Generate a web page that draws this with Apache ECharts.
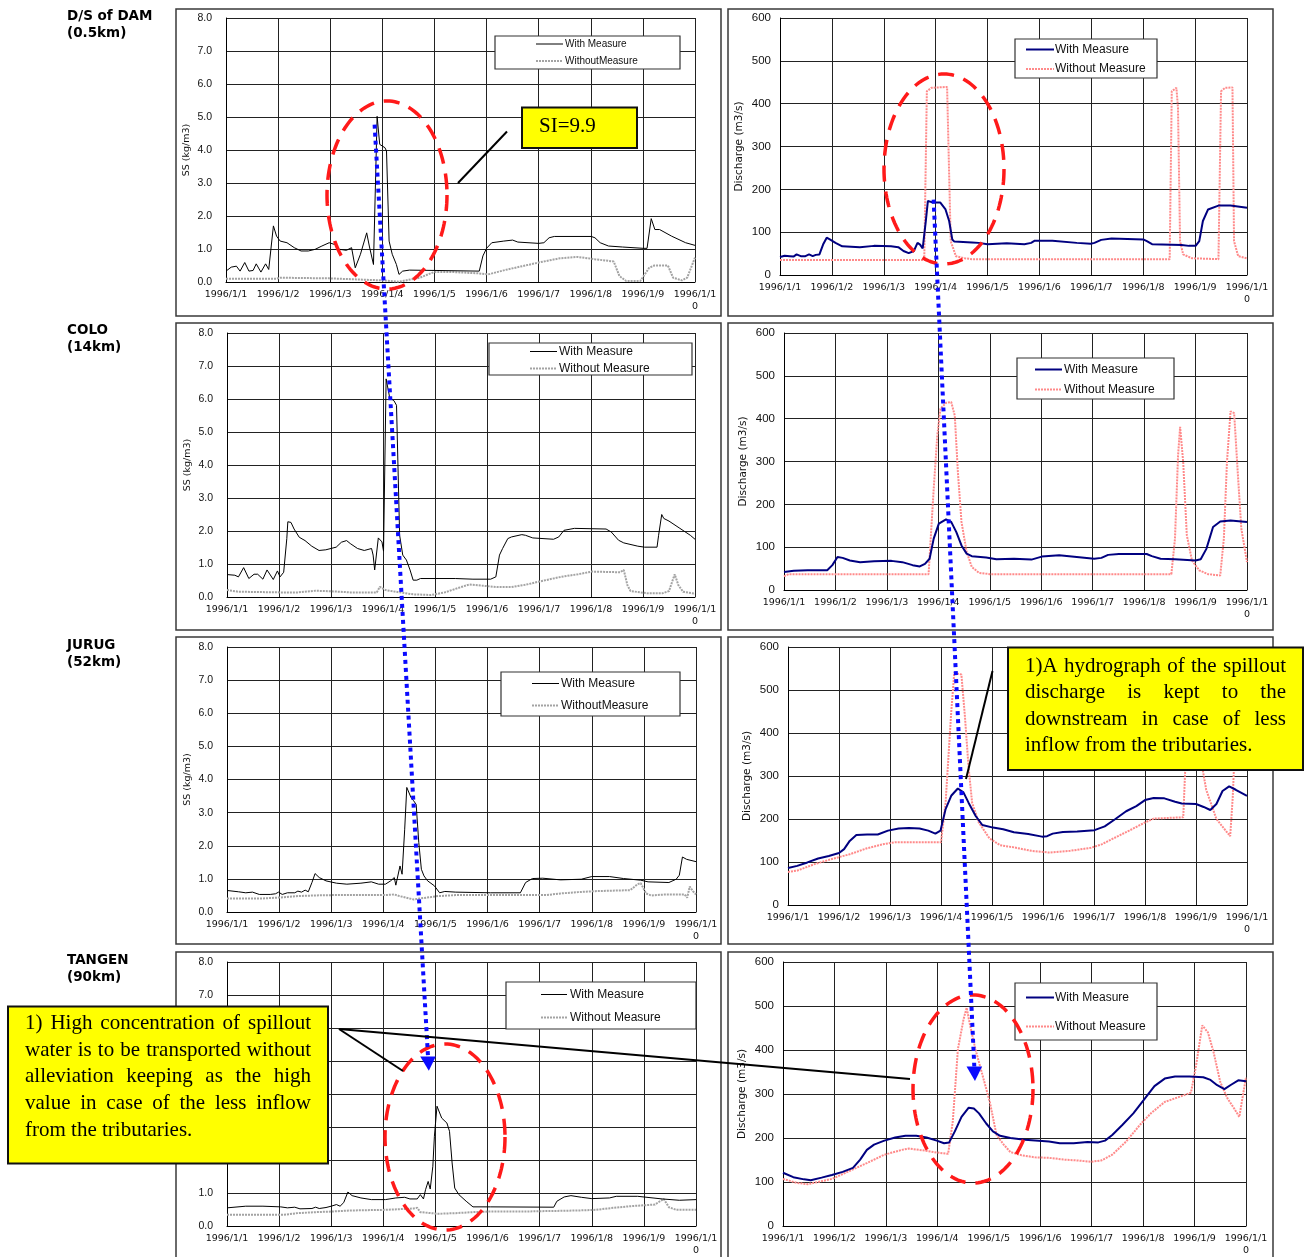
<!DOCTYPE html>
<html>
<head>
<meta charset="utf-8">
<script src="https://cdn.jsdelivr.net/npm/echarts@6/dist/echarts.min.js"></script>
<style>
  html, body { margin: 0; padding: 0; background: #fff; }
  #chart { width: 1305px; height: 1257px; }
</style>
</head>
<body>
<div id="chart"></div>
<script>
// ---- categories / tick labels ----
const dayLabels = ['1996/1/1', '1996/1/2', '1996/1/3', '1996/1/4', '1996/1/5',
                   '1996/1/6', '1996/1/7', '1996/1/8', '1996/1/9', '1996/1/10'];
const ssTickLabels = ['0.0', '1.0', '2.0', '3.0', '4.0', '5.0', '6.0', '7.0', '8.0'];
const qTickLabels = ['0', '100', '200', '300', '400', '500', '600'];
const stationNames = ['D/S of DAM\n(0.5km)', 'COLO\n(14km)', 'JURUG\n(52km)', 'TANGEN\n(90km)'];

// ---- D/S of DAM (0.5km) : [day, value] ----
const damSsWith = [[0,0.33],[0.10,0.45],[0.20,0.48],[0.27,0.33],[0.36,0.59],[0.44,0.33],[0.52,0.35],[0.58,0.55],[0.67,0.30],[0.76,0.55],[0.82,0.38],[0.91,1.70],[0.97,1.39],[1.04,1.24],[1.17,1.19],[1.31,1.04],[1.44,0.94],[1.58,0.94],[1.71,0.99],[1.84,1.09],[1.98,1.19],[2.08,1.14],[2.18,0.99],[2.31,0.96],[2.41,1.04],[2.48,0.43],[2.58,0.84],[2.70,1.49],[2.75,1.09],[2.83,0.53],[2.86,0.53],[2.90,5.02],[2.95,4.17],[3.05,4.07],[3.08,3.97],[3.13,1.24],[3.19,0.84],[3.27,0.53],[3.32,0.23],[3.39,0.33],[3.52,0.36],[4.00,0.35],[4.86,0.33],[4.93,0.79],[5.00,1.02],[5.10,1.19],[5.33,1.24],[5.50,1.27],[5.60,1.21],[6.00,1.17],[6.10,1.19],[6.20,1.34],[6.30,1.38],[7.01,1.38],[7.08,1.34],[7.18,1.19],[7.34,1.09],[7.61,1.06],[8.01,1.02],[8.08,1.02],[8.16,1.92],[8.23,1.59],[8.32,1.59],[8.55,1.39],[8.82,1.19],[9.00,1.11]];
const damSsWithout = [[0,0.10],[0.97,0.10],[1.04,0.13],[1.98,0.11],[2.98,0.05],[3.32,0.01],[3.72,0.13],[3.99,0.30],[4.39,0.30],[4.86,0.26],[5.03,0.23],[5.40,0.38],[6.00,0.59],[6.41,0.72],[6.74,0.76],[7.08,0.69],[7.44,0.62],[7.55,0.18],[7.68,0.03],[7.95,0.03],[8.12,0.43],[8.22,0.50],[8.48,0.50],[8.58,0.13],[8.75,0.05],[8.85,0.13],[9.00,0.74]];
const damQWith = [[0,42],[0.09,45],[0.19,44],[0.26,43],[0.32,48],[0.40,44],[0.49,44],[0.56,48],[0.63,44],[0.69,47],[0.76,48],[0.83,71],[0.90,87],[0.96,83],[1.07,75],[1.20,67],[1.54,65],[1.81,68],[2.14,67],[2.28,65],[2.38,56],[2.48,51],[2.58,56],[2.65,75],[2.70,71],[2.75,62],[2.81,126],[2.85,173],[2.95,169],[3.09,169],[3.19,153],[3.26,126],[3.32,83],[3.36,78],[3.70,76],[3.83,75],[4.00,72],[4.37,74],[4.71,72],[4.84,75],[4.91,80],[5.25,80],[5.72,75],[5.99,73],[6.06,75],[6.19,82],[6.39,85],[7.00,83],[7.07,79],[7.17,72],[7.74,70],[7.88,68],[8.01,68],[8.08,79],[8.15,126],[8.25,153],[8.45,162],[8.68,162],[9.00,157]];
const damQWithout = [[0,35],[2.78,35],[2.83,429],[2.92,437],[3.22,439],[3.29,79],[3.39,44],[3.56,39],[3.70,37],[7.51,37],[7.55,429],[7.64,437],[7.67,390],[7.71,79],[7.77,48],[7.94,39],[8.45,37],[8.50,429],[8.58,437],[8.72,438],[8.75,79],[8.83,44],[9.00,39]];

// ---- COLO (14km) ----
const coloSsWith = [[0,0.68],[0.15,0.66],[0.22,0.61],[0.32,0.89],[0.42,0.56],[0.52,0.69],[0.59,0.69],[0.69,0.54],[0.77,0.82],[0.89,0.53],[0.97,0.79],[1.02,0.61],[1.09,0.75],[1.15,1.77],[1.17,2.28],[1.23,2.26],[1.29,2.06],[1.39,1.81],[1.50,1.71],[1.63,1.54],[1.77,1.41],[1.90,1.43],[2.10,1.51],[2.20,1.66],[2.30,1.71],[2.37,1.62],[2.51,1.47],[2.64,1.41],[2.78,1.47],[2.81,1.27],[2.84,0.82],[2.91,1.79],[2.98,1.67],[3.01,1.39],[3.06,6.61],[3.13,6.03],[3.21,5.95],[3.26,5.81],[3.32,1.87],[3.38,1.27],[3.45,1.12],[3.52,0.82],[3.58,0.51],[3.65,0.51],[3.72,0.56],[4.39,0.56],[4.73,0.54],[5.07,0.54],[5.17,0.61],[5.24,1.27],[5.30,1.47],[5.40,1.77],[5.47,1.82],[5.67,1.89],[5.74,1.87],[5.88,1.79],[6.28,1.75],[6.38,1.82],[6.48,2.02],[6.68,2.08],[7.29,2.06],[7.39,1.97],[7.53,1.72],[7.63,1.64],[7.90,1.54],[8.03,1.51],[8.27,1.51],[8.30,1.87],[8.36,2.50],[8.40,2.38],[8.50,2.30],[8.71,2.08],[8.91,1.87],[9.00,1.75]];
const coloSsWithout = [[0,0.21],[0.22,0.16],[1.02,0.14],[1.36,0.14],[1.70,0.19],[2.04,0.17],[2.37,0.14],[2.88,0.14],[2.94,0.31],[3.05,0.21],[3.32,0.14],[3.58,0.08],[3.92,0.06],[4.19,0.14],[4.46,0.28],[4.66,0.38],[4.93,0.34],[5.20,0.30],[5.47,0.30],[5.74,0.37],[6.01,0.47],[6.42,0.61],[6.75,0.69],[7.02,0.77],[7.56,0.75],[7.63,0.82],[7.70,0.36],[7.76,0.18],[8.10,0.11],[8.37,0.11],[8.50,0.18],[8.61,0.69],[8.68,0.36],[8.77,0.16],[9.00,0.10]];
const coloQWith = [[0,42],[0.19,45],[0.46,46],[0.84,46],[0.94,58],[1.04,77],[1.14,75],[1.28,69],[1.48,65],[1.75,67],[2.09,68],[2.30,65],[2.50,58],[2.64,55],[2.74,61],[2.83,73],[2.91,120],[3.01,155],[3.15,165],[3.25,159],[3.35,135],[3.45,104],[3.55,85],[3.65,79],[3.93,76],[4.13,72],[4.47,73],[4.81,71],[5.01,78],[5.35,81],[5.69,77],[6.03,73],[6.17,75],[6.30,82],[6.51,84],[7.05,84],[7.15,79],[7.32,73],[7.60,72],[8.00,69],[8.10,72],[8.21,96],[8.34,147],[8.48,160],[8.68,162],[9.00,159]];
const coloQWithout = [[0,32],[0.09,37],[2.81,37],[2.91,236],[2.98,361],[3.04,423],[3.15,437],[3.25,439],[3.32,407],[3.38,275],[3.45,159],[3.55,89],[3.65,54],[3.79,40],[4.00,37],[7.53,37],[7.60,120],[7.66,314],[7.70,381],[7.76,298],[7.83,128],[7.93,69],[8.07,46],[8.24,37],[8.48,34],[8.55,120],[8.61,298],[8.68,417],[8.75,413],[8.82,275],[8.89,143],[9.00,65]];

// ---- JURUG (52km) ----
const jurugSsWith = [[0,0.65],[0.22,0.61],[0.36,0.58],[0.49,0.60],[0.62,0.53],[0.83,0.53],[0.93,0.55],[0.99,0.60],[1.06,0.53],[1.16,0.58],[1.30,0.58],[1.36,0.63],[1.43,0.60],[1.50,0.66],[1.56,0.61],[1.63,0.89],[1.69,1.16],[1.77,1.04],[1.90,0.94],[2.10,0.87],[2.30,0.84],[2.57,0.87],[2.77,0.91],[2.91,0.84],[3.04,0.84],[3.14,0.94],[3.21,1.04],[3.24,0.81],[3.32,1.39],[3.36,1.14],[3.41,2.50],[3.45,3.76],[3.53,3.46],[3.58,3.36],[3.63,3.25],[3.68,2.10],[3.73,1.29],[3.78,1.09],[3.85,0.94],[3.98,0.79],[4.08,0.58],[4.18,0.62],[4.39,0.60],[5.06,0.58],[5.63,0.58],[5.73,0.89],[5.86,1.01],[6.06,1.02],[6.40,0.97],[6.80,0.99],[7.00,1.07],[7.34,1.07],[7.61,1.01],[7.94,0.96],[8.08,0.91],[8.48,0.89],[8.62,0.99],[8.68,1.11],[8.74,1.66],[8.82,1.59],[9.00,1.52]];
const jurugSsWithout = [[0,0.41],[0.69,0.41],[1.03,0.44],[1.36,0.48],[1.70,0.50],[2.03,0.51],[3.04,0.51],[3.21,0.53],[3.31,0.48],[3.58,0.38],[3.71,0.41],[4.05,0.48],[4.39,0.51],[6.13,0.51],[6.40,0.56],[6.74,0.60],[7.07,0.63],[7.74,0.66],[7.88,0.84],[7.94,0.87],[8.04,0.56],[8.14,0.50],[8.42,0.53],[8.78,0.53],[8.83,0.43],[8.88,0.77],[8.94,0.63],[9.00,0.53]];
const jurugQWith = [[0,86],[0.18,91],[0.38,99],[0.59,108],[0.80,114],[1.00,121],[1.10,130],[1.21,149],[1.34,163],[1.55,164],[1.76,164],[1.96,173],[2.17,178],[2.37,179],[2.58,178],[2.75,173],[2.89,166],[2.99,173],[3.09,223],[3.20,254],[3.33,271],[3.44,262],[3.54,238],[3.68,207],[3.81,186],[4.02,180],[4.22,176],[4.43,169],[4.71,165],[4.98,159],[5.08,160],[5.19,166],[5.39,170],[5.67,171],[6.01,174],[6.21,183],[6.42,200],[6.63,218],[6.83,230],[7.00,244],[7.17,249],[7.38,248],[7.59,240],[7.72,236],[8.00,235],[8.15,228],[8.28,221],[8.40,235],[8.52,265],[8.65,276],[8.78,268],[9.00,254]];
const jurugQWithout = [[0,77],[0.18,80],[0.52,95],[0.86,107],[1.21,118],[1.55,132],[1.89,142],[2.10,146],[3.00,146],[3.09,238],[3.20,448],[3.26,540],[3.40,536],[3.47,437],[3.54,321],[3.61,238],[3.74,192],[3.95,155],[4.16,139],[4.43,134],[4.77,126],[5.12,122],[5.53,126],[5.94,133],[6.15,141],[6.35,153],[6.69,173],[7.00,192],[7.17,201],[7.75,204],[7.79,320],[7.86,430],[7.98,430],[8.03,384],[8.20,268],[8.40,200],[8.67,160],[8.72,250],[8.78,420],[8.85,450],[9.00,400]];

// ---- TANGEN (90km) ----
const tangenSsWith = [[0,0.55],[0.36,0.60],[0.69,0.60],[1.03,0.58],[1.16,0.55],[1.30,0.57],[1.40,0.52],[1.63,0.53],[1.70,0.57],[1.77,0.53],[1.90,0.56],[2.00,0.60],[2.10,0.65],[2.17,0.60],[2.24,0.71],[2.32,1.03],[2.40,0.92],[2.57,0.85],[2.77,0.80],[3.04,0.80],[3.24,0.85],[3.41,0.87],[3.51,0.82],[3.65,0.82],[3.71,0.95],[3.77,0.82],[3.81,1.10],[3.86,1.35],[3.90,1.12],[3.95,1.81],[3.98,2.72],[4.03,3.63],[4.12,3.27],[4.22,3.12],[4.27,2.87],[4.32,1.91],[4.37,1.15],[4.45,0.95],[4.59,0.75],[4.72,0.58],[5.06,0.58],[6.27,0.57],[6.33,0.75],[6.47,0.88],[6.60,0.92],[6.80,0.87],[7.00,0.83],[7.34,0.85],[7.47,0.90],[7.88,0.90],[8.35,0.82],[8.68,0.78],[9.00,0.80]];
const tangenSsWithout = [[0,0.34],[1.09,0.34],[1.36,0.39],[1.70,0.42],[2.03,0.44],[2.37,0.47],[3.04,0.49],[3.58,0.53],[3.65,0.55],[3.71,0.42],[4.05,0.37],[4.39,0.39],[4.72,0.42],[5.06,0.44],[5.73,0.44],[6.40,0.46],[6.74,0.47],[7.07,0.49],[7.41,0.55],[7.74,0.60],[8.21,0.65],[8.38,0.82],[8.48,0.57],[8.62,0.49],[9.00,0.49]];
const tangenQWith = [[0,121],[0.20,111],[0.41,106],[0.54,104],[0.75,110],[0.95,116],[1.16,123],[1.36,132],[1.50,151],[1.63,173],[1.77,185],[1.97,194],[2.18,201],[2.38,205],[2.59,205],[2.79,201],[2.99,194],[3.13,188],[3.23,190],[3.34,215],[3.47,248],[3.61,269],[3.71,267],[3.81,256],[3.95,233],[4.08,215],[4.22,205],[4.42,200],[4.70,196],[4.97,194],[5.17,192],[5.38,188],[5.65,188],[5.92,191],[6.13,190],[6.26,194],[6.40,207],[6.60,230],[6.81,256],[7.01,286],[7.22,318],[7.42,335],[7.62,340],[7.90,340],[8.17,338],[8.31,332],[8.44,320],[8.58,311],[8.71,321],[8.85,331],[9.00,329]];
const tangenQWithout = [[0,107],[0.27,98],[0.48,95],[0.68,100],[0.95,107],[1.29,125],[1.63,143],[1.97,162],[2.31,173],[2.45,176],[2.72,172],[2.99,167],[3.21,164],[3.30,237],[3.40,402],[3.51,470],[3.57,496],[3.64,454],[3.74,402],[3.88,342],[4.02,282],[4.15,207],[4.29,185],[4.42,168],[4.63,161],[4.90,156],[5.17,155],[5.45,151],[5.72,149],[5.99,146],[6.19,149],[6.40,162],[6.67,192],[6.94,230],[7.15,256],[7.42,282],[7.69,293],[7.93,303],[8.03,365],[8.15,456],[8.26,440],[8.37,395],[8.50,327],[8.64,290],[8.77,267],[8.87,248],[8.94,297],[9.00,338]];

// ---- panel layout (row-major: SS on the left, discharge on the right) ----
const panels = [
  { kind: 'ss', grid: [226, 18, 469, 264],  frame: [176, 9, 545, 307],   w: damSsWith,     wo: damSsWithout,
    legend: { box: [495, 36, 185, 33], line: [536, 563], tx: 565, rows: [44, 61], fs: 10, labels: ['With Measure', 'WithoutMeasure'] } },
  { kind: 'q',  grid: [780, 18, 467, 257],  frame: [728, 9, 545, 307],   w: damQWith,      wo: damQWithout,
    legend: { box: [1015, 39, 142, 39], line: [1026, 1054], tx: 1055, rows: [49.5, 69], fs: 12, labels: ['With Measure', 'Without Measure'] } },
  { kind: 'ss', grid: [227, 333, 468, 264], frame: [176, 323, 545, 307], w: coloSsWith,    wo: coloSsWithout,
    legend: { box: [489, 343, 203, 32], line: [530, 557], tx: 559, rows: [351.5, 368.5], fs: 12, labels: ['With Measure', 'Without Measure'] } },
  { kind: 'q',  grid: [784, 333, 463, 257], frame: [728, 323, 545, 307], w: coloQWith,     wo: coloQWithout,
    legend: { box: [1017, 358, 157, 41], line: [1035, 1062], tx: 1064, rows: [369.5, 389.5], fs: 12, labels: ['With Measure', 'Without Measure'] } },
  { kind: 'ss', grid: [227, 647, 469, 265], frame: [176, 637, 545, 307], w: jurugSsWith,   wo: jurugSsWithout,
    legend: { box: [501, 672, 179, 44], line: [532, 559], tx: 561, rows: [683.5, 705.5], fs: 12, labels: ['With Measure', 'WithoutMeasure'] } },
  { kind: 'q',  grid: [788, 647, 459, 258], frame: [728, 637, 545, 307], w: jurugQWith,    wo: jurugQWithout,
    legend: { box: [1017, 672, 157, 41], line: [1035, 1062], tx: 1064, rows: [683.5, 703.5], fs: 12, labels: ['With Measure', 'Without Measure'] } },
  { kind: 'ss', grid: [227, 962, 469, 264], frame: [176, 952, 545, 310], w: tangenSsWith,  wo: tangenSsWithout,
    legend: { box: [506, 982, 190, 47], line: [541, 567], tx: 570, rows: [994.5, 1017.5], fs: 12, labels: ['With Measure', 'Without Measure'] } },
  { kind: 'q',  grid: [783, 962, 463, 267], frame: [728, 952, 545, 310], w: tangenQWith,   wo: tangenQWithout,
    legend: { box: [1015, 983, 142, 57], line: [1026, 1054], tx: 1055, rows: [997.5, 1026.5], fs: 12, labels: ['With Measure', 'Without Measure'] } }
];

const styles = {
  ss: { w: { color: '#000000', width: 1, type: 'solid' },
        wo: { color: '#a3a3a3', width: 2, type: [2, 1] } },
  q:  { w: { color: '#000080', width: 2, type: 'solid' },
        wo: { color: '#ff8a8a', width: 2, type: [2, 1] } }
};

const grids = [], xAxes = [], yAxes = [], series = [], elements = [];

panels.forEach((p, i) => {
  const [l, t, w, h] = p.grid;
  grids.push({ left: l, top: t, width: w, height: h, containLabel: false });
  xAxes.push({
    type: 'value', gridIndex: i, min: 0, max: 9, interval: 1,
    axisLine: { show: true, onZero: false, lineStyle: { color: '#000', width: 1 } },
    axisTick: { show: false },
    splitLine: { show: true, lineStyle: { color: '#222', width: 1 } },
    axisLabel: {
      formatter: v => dayLabels[Math.round(v)],
      fontFamily: 'DejaVu Sans', fontSize: 9.5, color: '#111', margin: 7,
      width: 46, overflow: 'breakAll', lineHeight: 12, hideOverlap: false
    }
  });
  const isSS = p.kind === 'ss';
  yAxes.push({
    type: 'value', gridIndex: i, min: 0, max: isSS ? 8 : 600, interval: isSS ? 1 : 100,
    name: isSS ? 'SS (kg/m3)' : 'Discharge (m3/s)',
    nameLocation: 'middle', nameGap: isSS ? 34 : 35,
    nameTextStyle: { fontFamily: 'DejaVu Sans', fontSize: isSS ? 9.5 : 10.5, color: '#111' },
    axisLine: { show: true, onZero: false, lineStyle: { color: '#000', width: 1 } },
    axisTick: { show: false },
    splitLine: { show: true, lineStyle: { color: '#222', width: 1 } },
    axisLabel: {
      formatter: v => isSS ? ssTickLabels[Math.round(v)] : qTickLabels[Math.round(v / 100)],
      fontFamily: 'Liberation Sans', fontSize: isSS ? 10.5 : 11.5, color: '#111', margin: isSS ? 14 : 9
    }
  });
  const st = styles[p.kind];
  series.push({
    type: 'line', name: p.legend.labels[1], xAxisIndex: i, yAxisIndex: i, data: p.wo,
    showSymbol: false, symbol: 'none', z: 3, lineStyle: st.wo
  });
  series.push({
    type: 'line', name: p.legend.labels[0], xAxisIndex: i, yAxisIndex: i, data: p.w,
    showSymbol: false, symbol: 'none', z: 4, lineStyle: st.w
  });

  // panel frame
  const [fx, fy, fw, fh] = p.frame;
  elements.push({ type: 'rect', z: 1, shape: { x: fx, y: fy, width: fw, height: fh },
    style: { fill: 'none', stroke: '#3a3a3a', lineWidth: 1.5 } });

  // legend box
  const L = p.legend;
  elements.push({ type: 'rect', z: 60, shape: { x: L.box[0], y: L.box[1], width: L.box[2], height: L.box[3] },
    style: { fill: '#fff', stroke: '#333', lineWidth: 1.2 } });
  [st.w, st.wo].forEach((ls, k) => {
    elements.push({ type: 'line', z: 61, shape: { x1: L.line[0], y1: L.rows[k], x2: L.line[1], y2: L.rows[k] },
      style: { stroke: ls.color, lineWidth: ls.width, lineDash: ls.type === 'solid' ? null : ls.type } });
    elements.push({ type: 'text', z: 61, x: L.tx, y: L.rows[k],
      style: { text: L.labels[k], font: L.fs + 'px "Liberation Sans"', fill: '#111', verticalAlign: 'middle' } });
  });
});

// station labels
const stationY = [8, 322, 637, 952];
stationNames.forEach((s, i) => {
  elements.push({ type: 'text', z: 10, x: 67, y: stationY[i],
    style: { text: s, font: 'bold 13.5px "DejaVu Sans"', fill: '#000', lineHeight: 17, verticalAlign: 'top' } });
});

// dashed red ellipses marking the spill peaks
function ellipse(cx, cy, rx, ry) {
  const pts = [];
  for (let k = 0; k < 144; k++) {
    const a = k / 144 * Math.PI * 2;
    pts.push([cx + rx * Math.cos(a), cy + ry * Math.sin(a)]);
  }
  return { type: 'polygon', z: 80, shape: { points: pts },
    style: { fill: 'none', stroke: '#ff1a1a', lineWidth: 3.5, lineDash: [16, 10] } };
}
elements.push(ellipse(387, 195, 60, 94));
elements.push(ellipse(944, 169, 60, 95));
elements.push(ellipse(445, 1137, 60, 93));
elements.push(ellipse(973, 1089, 60, 94));

// blue dotted arrows tracing the peak downstream
function arrow(x1, y1, x2, y2, tipY, half) {
  elements.push({ type: 'line', z: 85, shape: { x1, y1, x2, y2 },
    style: { stroke: '#0a0aff', lineWidth: 4, lineDash: [4, 4] } });
  const tipX = x2 + (x2 - x1) / (y2 - y1) * (tipY - y2);
  elements.push({ type: 'polygon', z: 85, shape: { points: [[x2 - half, y2], [x2 + half, y2], [tipX, tipY]] },
    style: { fill: '#0a0aff' } });
}
arrow(374.6, 124.7, 428, 1056.5, 1070.7, 7.8);
arrow(933.6, 199.7, 974.3, 1066.5, 1081, 7.8);

// callout boxes
const measureCtx = document.createElement('canvas').getContext('2d');
function textWidth(t, font) { measureCtx.font = font; return measureCtx.measureText(t).width; }
function noteBox(box, lines, x, y0, width, lineH, font) {
  elements.push({ type: 'rect', z: 90, shape: { x: box[0], y: box[1], width: box[2], height: box[3] },
    style: { fill: '#ffff00', stroke: '#111', lineWidth: 2 } });
  lines.forEach((line, i) => {
    const y = y0 + i * lineH;
    if (i === lines.length - 1) {
      elements.push({ type: 'text', z: 91, x, y, style: { text: line, font, fill: '#000', verticalAlign: 'middle' } });
      return;
    }
    const words = line.split(' ');
    const total = words.reduce((s, w) => s + textWidth(w, font), 0);
    const gap = (width - total) / (words.length - 1);
    let cx = x;
    words.forEach(w => {
      elements.push({ type: 'text', z: 91, x: cx, y, style: { text: w, font, fill: '#000', verticalAlign: 'middle' } });
      cx += textWidth(w, font) + gap;
    });
  });
}
const noteFont = '21px "Liberation Serif"';

// SI callout
elements.push({ type: 'line', z: 88, shape: { x1: 458, y1: 183, x2: 507, y2: 131.5 },
  style: { stroke: '#000', lineWidth: 2 } });
elements.push({ type: 'rect', z: 90, shape: { x: 522, y: 107.5, width: 115, height: 40.5 },
  style: { fill: '#ffff00', stroke: '#111', lineWidth: 2 } });
elements.push({ type: 'text', z: 91, x: 539, y: 126,
  style: { text: 'SI=9.9', font: noteFont, fill: '#000', verticalAlign: 'middle' } });

// discharge callout
elements.push({ type: 'line', z: 88, shape: { x1: 966, y1: 779, x2: 992.5, y2: 671 },
  style: { stroke: '#000', lineWidth: 2 } });
noteBox([1008, 647.5, 295, 122.5],
  ['1)A hydrograph of the spillout', 'discharge is kept to the', 'downstream in case of less', 'inflow from the tributaries.'],
  1025, 666, 261, 26.5, noteFont);

// concentration callout
elements.push({ type: 'line', z: 88, shape: { x1: 339, y1: 1029, x2: 403, y2: 1071 },
  style: { stroke: '#000', lineWidth: 2 } });
elements.push({ type: 'line', z: 88, shape: { x1: 339, y1: 1029, x2: 910, y2: 1079 },
  style: { stroke: '#000', lineWidth: 2 } });
noteBox([8, 1006.5, 320, 157],
  ['1) High concentration of spillout', 'water is to be transported without', 'alleviation keeping as the high',
   'value in case of the less inflow', 'from the tributaries.'],
  25, 1023.5, 286, 26.7, noteFont);

const chart = echarts.init(document.getElementById('chart'), null, { renderer: 'canvas' });
chart.setOption({
  animation: false,
  backgroundColor: '#fff',
  grid: grids,
  xAxis: xAxes,
  yAxis: yAxes,
  series: series,
  graphic: { elements: elements }
});
</script>
</body>
</html>
